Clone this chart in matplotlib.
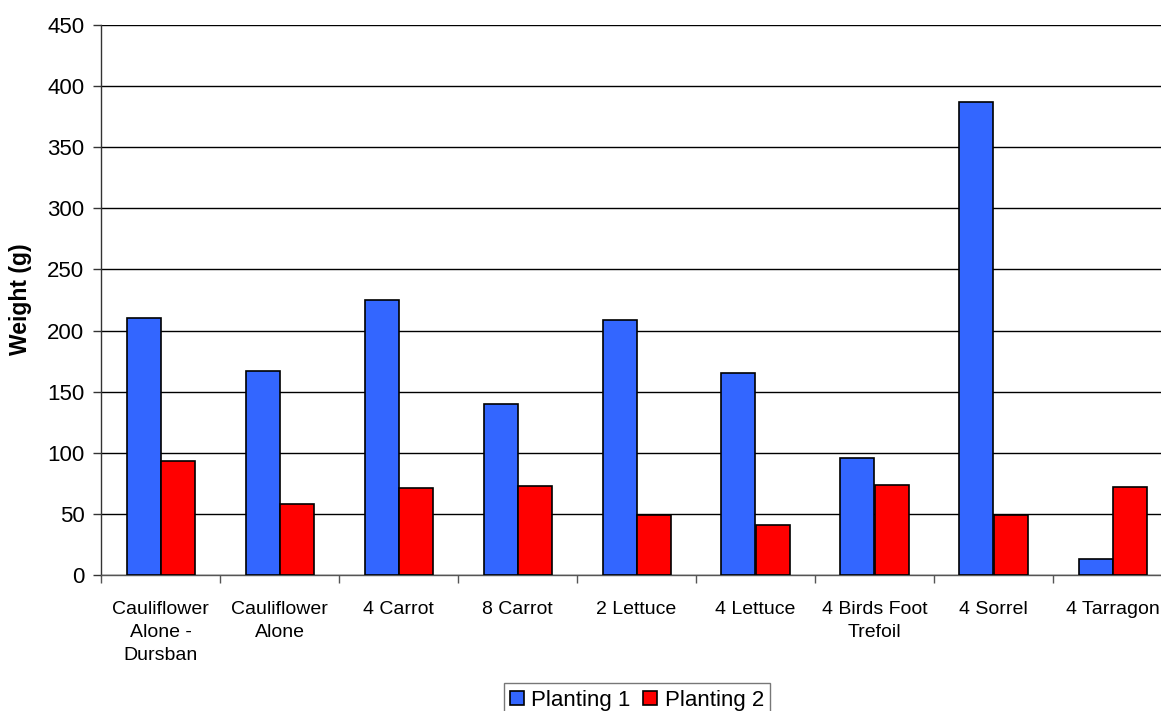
import matplotlib
matplotlib.use("Agg")
import matplotlib.pyplot as plt
import numpy as np
from matplotlib.patches import Patch

plt.rcParams['font.family'] = ['Liberation Sans', 'DejaVu Sans']

categories = ["Cauliflower\nAlone -\nDursban", "Cauliflower\nAlone", "4 Carrot", "8 Carrot",
              "2 Lettuce", "4 Lettuce", "4 Birds Foot\nTrefoil", "4 Sorrel", "4 Tarragon"]
planting1 = [210, 167, 225, 140, 209, 165, 96, 387, 13]
planting2 = [93, 58, 71, 73, 49, 41, 74, 49, 72]
series_names = ["Planting 1", "Planting 2"]
colors = ["#3366FF", "#FF0000"]
y_ticks = [0, 50, 100, 150, 200, 250, 300, 350, 400, 450]

fig = plt.figure(figsize=(11.61, 7.11), dpi=100)
ax = fig.add_axes([101/1161, 136/711, 1071/1161, 550/711])

n = len(categories)
x = np.arange(n)
w = 1 / 3.5
ax.bar(x - w/2, planting1, width=w, color=colors[0], edgecolor="black", linewidth=1.2, zorder=3)
ax.bar(x + w/2, planting2, width=w, color=colors[1], edgecolor="black", linewidth=1.2, zorder=3)

ax.set_xlim(-0.5, n - 0.5)
ax.set_ylim(0, 450)
ax.set_yticks(y_ticks)
ax.yaxis.grid(True, color="black", linewidth=1, zorder=0)
ax.set_axisbelow(True)

# boundaries between categories carry the tick marks, labels sit at centres
ax.set_xticks(np.arange(n + 1) - 0.5)
ax.set_xticklabels([])
ax.set_xticks(x, minor=True)
ax.set_xticklabels(categories, minor=True, fontsize=14, linespacing=1.45)
ax.tick_params(axis="x", which="minor", length=0, pad=19)
ax.tick_params(axis="x", which="major", length=6, width=1, color="#555555", direction="out")
ax.tick_params(axis="y", length=6, width=1, direction="out", labelsize=16, pad=6, color="#333333")

for s in ["top", "right"]:
    ax.spines[s].set_visible(False)
ax.spines["left"].set_color("#333333")
ax.spines["bottom"].set_color("#555555")
ax.spines["left"].set_linewidth(1)
ax.spines["bottom"].set_linewidth(1)

fig.text(21/1161, 1 - 299/711, "Weight (g)", rotation=90, fontsize=16.5, fontweight="bold",
         ha="center", va="center")

handles = [Patch(facecolor=c, edgecolor="black", linewidth=1.2) for c in colors]
leg = fig.legend(handles, series_names, loc="upper center", bbox_to_anchor=(637/1161, 1 - 683/711),
                 ncol=2, fontsize=16, frameon=True, fancybox=False, edgecolor="#555555",
                 handlelength=0.63, handleheight=0.63, handletextpad=0.32, columnspacing=0.57,
                 borderpad=0.3, borderaxespad=0)
leg.get_frame().set_linewidth(1)

fig.savefig("out.png", dpi=100)
